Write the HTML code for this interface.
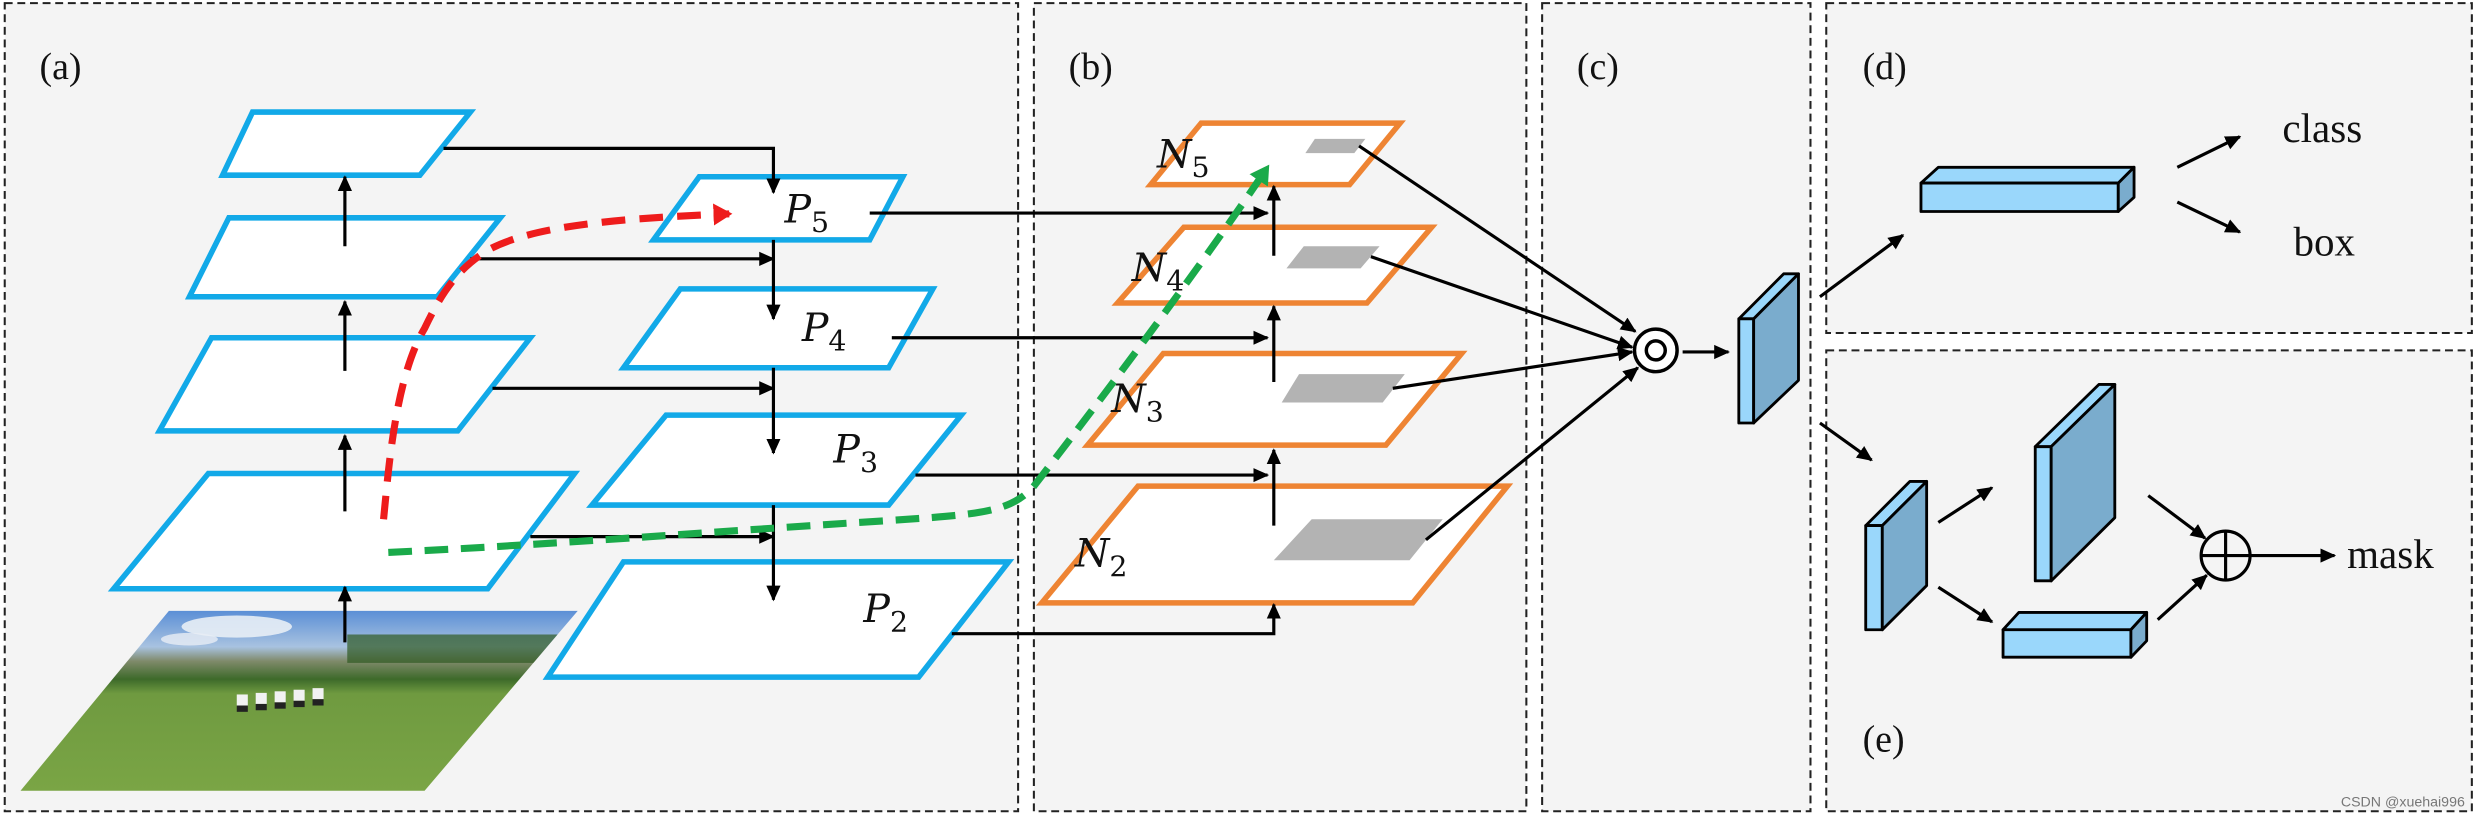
<!DOCTYPE html>
<html><head><meta charset="utf-8"><style>html,body{margin:0;padding:0;background:#fff}svg{display:block}</style></head><body>
<svg width="2475" height="816" viewBox="0 0 1568 517" preserveAspectRatio="none" xmlns="http://www.w3.org/2000/svg">
<defs>
<marker id="ah" markerWidth="10" markerHeight="10" refX="9" refY="5" orient="auto" markerUnits="userSpaceOnUse"><path d="M0,0.5 L10,5 L0,9.5 Z" fill="#000"/></marker>
<marker id="ahr" markerWidth="14" markerHeight="14" refX="10" refY="7" orient="auto" markerUnits="userSpaceOnUse"><path d="M0,0 L12,7 L0,14 Z" fill="#ee1c1c"/></marker>
<marker id="ahg" markerWidth="14" markerHeight="14" refX="10" refY="7" orient="auto" markerUnits="userSpaceOnUse"><path d="M0,0 L12,7 L0,14 Z" fill="#1aaa4a"/></marker>
<linearGradient id="photo" x1="0" y1="0" x2="0" y2="1">
<stop offset="0" stop-color="#5b8fd6"/><stop offset="0.2" stop-color="#a8c2e0"/><stop offset="0.28" stop-color="#7f8a6a"/><stop offset="0.38" stop-color="#3d6a2a"/><stop offset="0.46" stop-color="#6f9a40"/><stop offset="1" stop-color="#7aa545"/>
</linearGradient>
<clipPath id="pc"><polygon points="107,387 366,387 269,501 13,501"/></clipPath>
</defs>
<g fill="#f4f4f4" stroke="#222" stroke-width="1.3" stroke-dasharray="5,3">
<rect x="3" y="2" width="642" height="512"/>
<rect x="655" y="2" width="312" height="512"/>
<rect x="977" y="2" width="170" height="512"/>
<rect x="1157" y="2" width="409" height="209"/>
<rect x="1157" y="222" width="409" height="292"/>
</g>
<g font-family="Liberation Serif, serif" font-size="24" fill="#111">
<text x="25" y="50">(a)</text><text x="677" y="50">(b)</text><text x="999" y="50">(c)</text><text x="1180" y="50">(d)</text><text x="1180" y="476">(e)</text>
<text x="1446" y="90" font-size="26">class</text><text x="1453" y="162" font-size="26">box</text><text x="1487" y="360" font-size="26">mask</text>
</g>
<!-- photo -->
<polygon points="107,387 366,387 269,501 13,501" fill="url(#photo)"/>
<g clip-path="url(#pc)">
<ellipse cx="150" cy="397" rx="35" ry="7" fill="#e8eef5" opacity="0.9"/>
<ellipse cx="120" cy="405" rx="18" ry="4" fill="#e8eef5" opacity="0.8"/>
<rect x="220" y="402" width="150" height="18" fill="#2f5a22" opacity="0.7"/>
<g fill="#f2f2f2"><rect x="150" y="440" width="7" height="7"/><rect x="162" y="439" width="7" height="7"/><rect x="174" y="438" width="7" height="7"/><rect x="186" y="437" width="7" height="7"/><rect x="198" y="436" width="7" height="7"/></g>
<g fill="#222"><rect x="150" y="447" width="7" height="4"/><rect x="162" y="446" width="7" height="4"/><rect x="174" y="445" width="7" height="4"/><rect x="186" y="444" width="7" height="4"/><rect x="198" y="443" width="7" height="4"/></g>
</g>
<!-- blue paras -->
<g fill="#fff" stroke="#12a9e8" stroke-width="3.5">
<polygon points="160,71 298,71 266,111 141,111"/>
<polygon points="145,138 317,138 277,188 120,188"/>
<polygon points="134,214 336,214 290,273 101,273"/>
<polygon points="132,300 364,300 309,373 72,373"/>
<polygon points="443,112 572,112 551,152 414,152"/>
<polygon points="431,183 591,183 563,233 395,233"/>
<polygon points="422,263 609,263 563,320 375,320"/>
<polygon points="395,356 639,356 582,429 347,429"/>
</g>
<!-- orange paras -->
<g fill="#fff" stroke="#ee8433" stroke-width="3.5">
<polygon points="761,78 887,78 855,117 729,117"/>
<polygon points="750,144 907,144 866,192 708,192"/>
<polygon points="737,224 926,224 878,282 689,282"/>
<polygon points="721,308 955,308 895,382 660,382"/>
</g>
<g fill="#b3b3b3">
<polygon points="833,88 865,88 858,97 827,97"/>
<polygon points="826,156 874,156 862,170 815,170"/>
<polygon points="823,237 890,237 876,255 812,255"/>
<polygon points="831,329 914,329 893,355 807,355"/>
</g>
<g font-family="DejaVu Serif, Liberation Serif, serif" font-style="italic" font-size="25" fill="#111">
<text x="497" y="141">P<tspan font-style="normal" font-size="18" dy="6">5</tspan></text>
<text x="508" y="216">P<tspan font-style="normal" font-size="18" dy="6">4</tspan></text>
<text x="528" y="293">P<tspan font-style="normal" font-size="18" dy="6">3</tspan></text>
<text x="547" y="394">P<tspan font-style="normal" font-size="18" dy="6">2</tspan></text>
<text x="733" y="106">N<tspan font-style="normal" font-size="18" dy="6">5</tspan></text>
<text x="717" y="178">N<tspan font-style="normal" font-size="18" dy="6">4</tspan></text>
<text x="704" y="261">N<tspan font-style="normal" font-size="18" dy="6">3</tspan></text>
<text x="681" y="359">N<tspan font-style="normal" font-size="18" dy="6">2</tspan></text>
</g>
<!-- black arrows -->
<g stroke="#000" stroke-width="2" fill="none" marker-end="url(#ah)">
<line x1="218.5" y1="156" x2="218.5" y2="112"/>
<line x1="218.5" y1="235" x2="218.5" y2="191"/>
<line x1="218.5" y1="324" x2="218.5" y2="276"/>
<line x1="218.5" y1="407" x2="218.5" y2="372"/>
<polyline points="281,94 490,94 490,122"/>
<line x1="298" y1="164" x2="490" y2="164"/>
<line x1="490" y1="152" x2="490" y2="202"/>
<line x1="312" y1="246" x2="490" y2="246"/>
<line x1="490" y1="233" x2="490" y2="287"/>
<line x1="336" y1="340" x2="490" y2="340"/>
<line x1="490" y1="320" x2="490" y2="380"/>
<line x1="551" y1="135" x2="803" y2="135"/>
<line x1="565" y1="214" x2="803" y2="214"/>
<line x1="580" y1="301" x2="803" y2="301"/>
<polyline points="603,401.5 807,401.5 807,383"/>
<line x1="807" y1="333" x2="807" y2="285"/>
<line x1="807" y1="242" x2="807" y2="194"/>
<line x1="807" y1="162" x2="807" y2="118"/>
<line x1="861" y1="92.5" x2="1036" y2="210"/>
<line x1="868.5" y1="162.6" x2="1034" y2="220"/>
<line x1="882.4" y1="246" x2="1034" y2="223"/>
<line x1="903.4" y1="342" x2="1037.6" y2="233"/>
<line x1="1066" y1="223" x2="1095" y2="223"/>
<line x1="1153" y1="188" x2="1205.6" y2="149"/>
<line x1="1379.4" y1="106" x2="1419" y2="86.6"/>
<line x1="1379.4" y1="128" x2="1419" y2="147"/>
<line x1="1153" y1="268" x2="1185.7" y2="291.5"/>
<line x1="1228" y1="331" x2="1262" y2="309"/>
<line x1="1228" y1="372" x2="1262" y2="394"/>
<line x1="1361" y1="314" x2="1397" y2="341"/>
<line x1="1367" y1="392.6" x2="1398" y2="364.5"/>
<line x1="1426" y1="352" x2="1479" y2="352"/>
</g>
<!-- circle ops -->
<circle cx="1049" cy="222" r="13.5" fill="#fff" stroke="#000" stroke-width="2.2"/>
<circle cx="1049" cy="222" r="6" fill="none" stroke="#000" stroke-width="2.2"/>
<circle cx="1410" cy="352" r="15.5" fill="none" stroke="#000" stroke-width="2"/>
<path d="M1394.5,352 H1425.5 M1410,336.5 V367.5" stroke="#000" stroke-width="2"/>
<!-- 3d blocks -->
<g stroke="#000" stroke-width="1.8" stroke-linejoin="round">
<polygon points="1101.6,202 1130,173.5 1139.4,173.5 1111,202" fill="#9ad7fb"/>
<rect x="1101.6" y="202" width="9.4" height="66" fill="#9ad7fb"/>
<polygon points="1111,202 1139.4,173.5 1139.4,241 1111,268" fill="#7aaccd"/>
<polygon points="1217,116 1228,106 1352,106 1342,116" fill="#9ad7fb"/>
<rect x="1217" y="116" width="125" height="18" fill="#9ad7fb"/>
<polygon points="1342,116 1352,106 1352,125 1342,134" fill="#7aaccd"/>
<polygon points="1182,333 1210,305 1220.6,305 1192.5,333" fill="#9ad7fb"/>
<rect x="1182" y="333" width="10.5" height="66" fill="#9ad7fb"/>
<polygon points="1192.5,333 1220.6,305 1220.6,371 1192.5,399" fill="#7aaccd"/>
<polygon points="1289.4,283 1329.7,243.6 1339.8,243.6 1299.5,283" fill="#9ad7fb"/>
<rect x="1289.4" y="283" width="10.1" height="85" fill="#9ad7fb"/>
<polygon points="1299.5,283 1339.8,243.6 1339.8,328 1299.5,368" fill="#7aaccd"/>
<polygon points="1269,399 1279,388 1360,388 1350,399" fill="#9ad7fb"/>
<rect x="1269" y="399" width="81" height="17.4" fill="#9ad7fb"/>
<polygon points="1350,399 1360,388 1360,406 1350,416.4" fill="#7aaccd"/>
</g>
<!-- dashed curves -->
<path d="M243,329 C246,300 250,240 269,208 C280,185 290,170 310,158 C340,142 400,138 462,135.5" fill="none" stroke="#ee1c1c" stroke-width="4.5" stroke-dasharray="15,9" marker-end="url(#ahr)"/>
<path d="M246,350 C350,345 450,337 560,330 C620,326 640,325 655,308 C700,250 760,170 803,106" fill="none" stroke="#1aaa4a" stroke-width="4.5" stroke-dasharray="15,8" marker-end="url(#ahg)"/>
<text x="1483" y="511" font-family="Liberation Sans, sans-serif" font-size="9" fill="#777">CSDN @xuehai996</text>
</svg>
</body></html>
